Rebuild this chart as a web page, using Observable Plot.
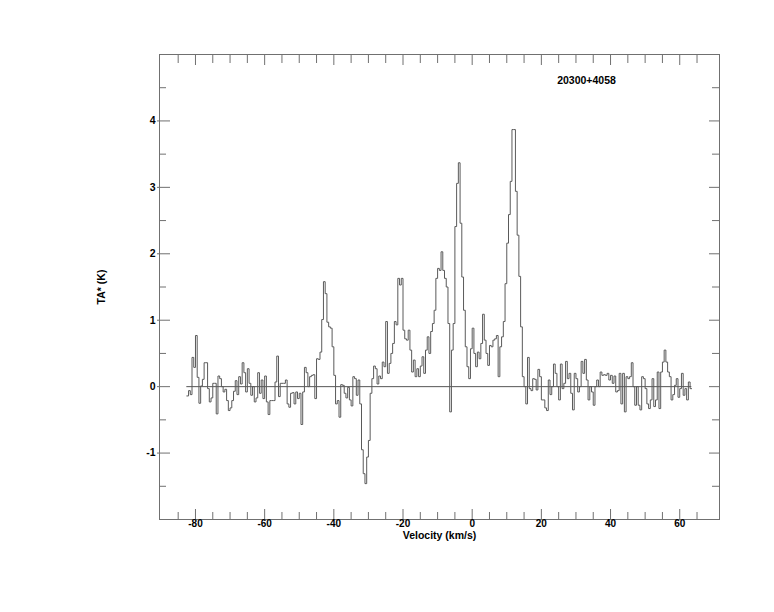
<!DOCTYPE html>
<html><head><meta charset="utf-8">
<script src="https://cdn.jsdelivr.net/npm/d3@7"></script>
<script src="https://cdn.jsdelivr.net/npm/@observablehq/plot@0.6"></script>
<style>body{margin:0;background:#fff;}</style>
</head><body><div id="chart"></div>
<script>
const sourceName = "20300+4058";
const xLabel = "Velocity (km/s)";
const yLabel = "TA* (K)";
const velStart = -82.5;   // left edge of first channel (km/s)
const chanWidth = 0.5;    // channel width (km/s)
const ta = [
 -0.14,-0.06,-0.12,0.44,0.29,0.77,0.14,-0.25,0.01,0.11,
 0.36,0.36,-0.03,-0.23,-0.17,0.05,0.05,-0.41,0.16,0.12,
 0.0,-0.08,-0.04,-0.21,-0.36,-0.32,-0.21,-0.07,0.09,-0.12,
 0.15,0.04,0.36,0.21,-0.08,0.27,0.05,-0.13,0.0,-0.23,
 -0.17,0.21,-0.1,0.1,-0.18,0.16,-0.23,-0.42,-0.21,-0.21,
 -0.21,0.07,0.46,-0.15,0.05,
 0.05,0.05,0.1,-0.26,-0.31,-0.1,-0.09,-0.26,-0.08,-0.18,
 -0.1,-0.57,-0.08,0.29,0.21,0.0,0.15,0.17,0.18,-0.18,
 0.42,0.41,0.52,1.01,1.58,1.40,0.97,0.9,0.88,0.6,
 0.17,-0.26,-0.21,-0.46,0.03,0.02,-0.1,-0.17,-0.01,-0.2,
 -0.29,0.15,0.12,-0.13,0.1,-0.26,-0.95,-1.31,-1.46,-1.06,
 -0.81,-0.1,0.12,0.31,0.27,0.04,0.16,0.12,0.37,0.3,
 0.98,0.2,0.35,0.5,0.65,0.98,0.93,
 1.63,1.53,1.63,0.85,0.72,0.7,0.85,0.55,0.22,0.4,
 0.15,0.27,0.15,0.31,0.45,0.2,0.55,0.75,0.5,0.83,
 0.95,1.15,1.63,1.78,1.75,2.03,1.75,1.63,1.5,0.95,
 -0.38,0.55,0.95,2.41,3.06,3.37,2.46,1.65,1.15,0.6,
 0.3,0.12,0.57,0.88,0.5,0.3,0.52,0.42,0.65,1.09,
 0.7,0.5,0.32,0.62,0.6,0.7,0.72,0.77,0.15,0.6,
 0.75,0.98,1.55,2.16,2.59,3.09,3.87,3.87,2.94,2.28,
 1.66,0.9,0.15,0.0,-0.26,0.44,-0.03,-0.06,
 0.12,0.11,-0.05,0.26,0.15,-0.2,-0.2,-0.32,-0.36,0.1,
 -0.12,0.0,0.34,0.2,0.0,-0.2,0.34,-0.03,0.05,0.38,
 0.12,0.2,-0.1,-0.35,0.2,0.12,-0.08,0.0,0.38,0.2,
 0.41,0.1,-0.2,0.0,-0.08,-0.28,0.0,0.1,0.0,0.22,
 0.17,0.18,0.17,0.2,0.1,0.17,0.05,0.16,-0.08,-0.06,
 0.2,-0.26,
 0.2,-0.38,0.15,0.12,0.15,0.36,0.0,-0.28,0.0,-0.28,
 -0.35,0.15,0.12,-0.03,-0.26,-0.33,-0.2,0.12,-0.3,-0.2,
 0.22,-0.33,0.22,0.37,0.55,0.37,0.22,0.15,-0.2,-0.12,
 0.02,0.12,-0.16,-0.03,0.2,-0.13,-0.03,-0.2,0.07,-0.03
];
const xMajorTicks = [-80,-60,-40,-20,0,20,40,60];
const xMinorTicks = [-85,-75,-70,-65,-55,-50,-45,-35,-30,-25,-15,-10,-5,5,10,15,25,30,35,45,50,55,65];
const yMajorTicks = [-1,0,1,2,3,4];
const yMinorTicks = [-1.5,-0.5,0.5,1.5,2.5,3.5,4.5];

// step outline: one point per channel left edge, plus the last right edge
const steps = ta.map((t, i) => ({v: velStart + i * chanWidth, t}));
steps.push({v: velStart + ta.length * chanWidth, t: ta[ta.length - 1]});
const vExtent = d3.extent(steps, d => d.v);

const axisColor = "#707070";
const font = "'Liberation Sans', Arial, Helvetica, sans-serif";
const noText = () => "";
const plain = d => String(d);   // hyphen-minus, no decimals

const chart = Plot.plot({
  width: 774,
  height: 612,
  marginLeft: 159,
  marginRight: 55,
  marginTop: 54,
  marginBottom: 93,
  x: {domain: [-90.4, 71.5]},
  y: {domain: [-2, 5]},
  style: {fontFamily: font, background: "white", color: "black"},
  marks: [
    Plot.ruleY([0], {x1: vExtent[0], x2: vExtent[1], stroke: "#555", strokeWidth: 1}),
    Plot.line(steps, {x: "v", y: "t", curve: "step-after", stroke: "#5a5a5a", strokeWidth: 1}),
    Plot.frame({stroke: axisColor}),
    // bottom ticks (inward)
    Plot.axisX(xMajorTicks, {anchor: "bottom", tickSize: -10, tickFormat: noText, stroke: axisColor, label: null}),
    Plot.axisX(xMinorTicks, {anchor: "bottom", tickSize: -7, tickFormat: noText, stroke: axisColor, label: null}),
    // top ticks (inward)
    Plot.axisX(xMajorTicks, {anchor: "top", tickSize: -10, tickFormat: noText, stroke: axisColor, label: null}),
    Plot.axisX(xMinorTicks, {anchor: "top", tickSize: -8, tickFormat: noText, stroke: axisColor, label: null}),
    // left ticks (major ones poke slightly outside)
    Plot.axisY(yMajorTicks, {anchor: "left", tickSize: -11, tickFormat: noText, stroke: axisColor, label: null}),
    Plot.axisY(yMajorTicks, {anchor: "left", tickSize: 2, tickFormat: noText, stroke: axisColor, label: null}),
    Plot.axisY(yMinorTicks, {anchor: "left", tickSize: -7, tickFormat: noText, stroke: axisColor, label: null}),
    // right ticks
    Plot.axisY(yMajorTicks, {anchor: "right", tickSize: -11, tickFormat: noText, stroke: axisColor, label: null}),
    Plot.axisY(yMinorTicks, {anchor: "right", tickSize: -8, tickFormat: noText, stroke: axisColor, label: null}),
    // tick labels
    Plot.axisX(xMajorTicks, {anchor: "bottom", tickSize: 0, tickPadding: 0, tickFormat: plain, fontSize: 10, fontWeight: "bold", fill: "black", label: null}),
    Plot.axisY(yMajorTicks, {anchor: "left", tickSize: 0, tickPadding: 4, tickFormat: plain, fontSize: 10.5, fontWeight: "bold", fill: "black", label: null}),
    // axis titles and source name
    Plot.text([xLabel], {frameAnchor: "bottom", dy: 19, textAnchor: "middle", fontSize: 10.5, fontWeight: "bold", fill: "black"}),
    Plot.text([yLabel], {frameAnchor: "left", dx: -58, rotate: -90, textAnchor: "middle", fontSize: 10.5, fontWeight: "bold", fill: "black"}),
    Plot.text([sourceName], {frameAnchor: "top-left", dx: 427, dy: 22, textAnchor: "middle", fontSize: 10.5, fontWeight: "bold", fill: "black"})
  ]
});
document.getElementById("chart").appendChild(chart);
</script>
</body></html>
